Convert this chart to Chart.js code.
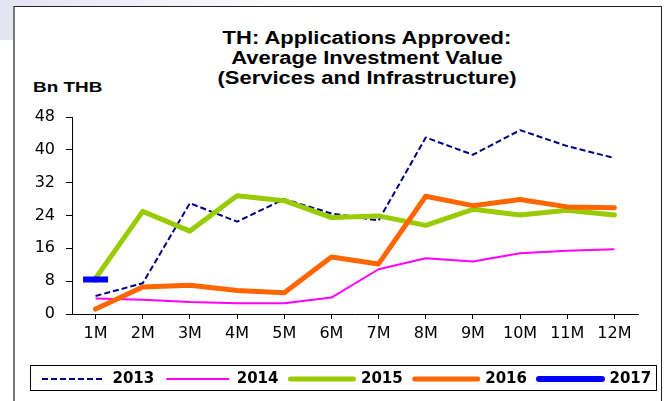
<!DOCTYPE html>
<html>
<head>
<meta charset="utf-8">
<script src="https://cdn.jsdelivr.net/npm/chart.js@4.4.0/dist/chart.umd.min.js"></script>
<style>
  html, body { margin:0; padding:0; width:667px; height:401px; overflow:hidden; background:#fff; }
  #corner { position:absolute; left:0; top:0; width:320px; height:40px; background:linear-gradient(100deg, #e4e4f1 0%, #f1f1f8 45%, #fff 100%); }
  #frame { position:absolute; left:13px; top:6px; width:646px; height:400px; background:#fff; border-top:1px solid #222; border-left:2px solid #777; border-right:1px solid #222; }
  #title { position:absolute; left:167px; top:28px; width:400px; text-align:center; font:bold 18px/20px "Liberation Sans", Arial, sans-serif; color:#000; transform:scaleX(1.22); transform-origin:center; }
  #unit { position:absolute; left:33px; top:78px; font:bold 15.5px/18px "Liberation Sans", Arial, sans-serif; color:#000; transform:scaleX(1.22); transform-origin:left; }
  #myChart { position:absolute; left:0; top:0; }
</style>
</head>
<body>
<div id="corner"></div>
<div id="frame"></div>
<div id="title">TH: Applications Approved:<br>Average Investment Value<br>(Services and Infrastructure)</div>
<div id="unit">Bn THB</div>
<canvas id="myChart" width="667" height="401"></canvas>
<script>
const months = ['1M', '2M', '3M', '4M', '5M', '6M', '7M', '8M', '9M', '10M', '11M', '12M'];
const y2013 = [4.4, 7.5, 27.0, 22.5, 28.0, 24.5, 22.8, 43.0, 38.8, 44.8, 40.9, 38.0];
const y2014 = [3.8, 3.5, 2.9, 2.6, 2.6, 4.0, 10.9, 13.6, 12.8, 14.8, 15.4, 15.8];
const y2015 = [8.7, 25.0, 20.2, 28.8, 27.6, 23.5, 23.9, 21.6, 25.5, 24.1, 25.3, 24.1];
const y2016 = [1.2, 6.6, 7.0, 5.7, 5.2, 13.9, 12.2, 28.7, 26.4, 27.9, 26.1, 25.9];
const y2017 = [8.4];
const yMin = 0, yMax = 48, yStep = 8;

const ctx = document.getElementById('myChart');
const tickFont = {family: 'DejaVu Sans', size: 16};

// box round the legend, like the excel one
const legendBox = {
    id: 'legendBox',
    afterDraw(chart) {
        const c = chart.ctx;
        c.save();
        c.strokeStyle = '#000';
        c.lineWidth = 1;
        c.strokeRect(30.5, 365.5, 626, 25);
        c.restore();
    }
};

new Chart(ctx, {
    type: 'line',
    data: {
        labels: months,
        datasets: [
            {label: '2013', data: y2013, borderColor: '#000080', backgroundColor: '#000080', borderWidth: 2, borderDash: [6, 3], order: 5},
            {label: '2014', data: y2014, borderColor: '#ff00ff', backgroundColor: '#ff00ff', borderWidth: 2, order: 4},
            {label: '2015', data: y2015, borderColor: '#99cc00', backgroundColor: '#99cc00', borderWidth: 5, borderCapStyle: 'round', order: 3},
            {label: '2016', data: y2016, borderColor: '#ff6600', backgroundColor: '#ff6600', borderWidth: 5, borderCapStyle: 'round', order: 2},
            {label: '2017', data: y2017, borderColor: '#0000ff', backgroundColor: '#0000ff', borderWidth: 6, borderCapStyle: 'round',
             pointRadius: 12.5, pointBorderWidth: 6, pointBorderColor: '#0000ff', order: 1}
        ]
    },
    options: {
        responsive: false,
        animation: false,
        devicePixelRatio: 1,
        layout: {padding: {top: 117, left: 30, right: 0, bottom: 4.5}},
        elements: {
            line: {tension: 0, borderJoinStyle: 'round'},
            point: {radius: 0, hoverRadius: 0, pointStyle: 'line'}
        },
        scales: {
            x: {
                offset: true,
                grid: {drawOnChartArea: false, tickLength: 5, color: '#000'},
                border: {color: '#000'},
                ticks: {font: tickFont, color: '#000', padding: 5, maxRotation: 0, autoSkip: false},
                afterFit(s) { s.height = 45.5; }
            },
            y: {
                min: yMin,
                max: yMax,
                grid: {drawOnChartArea: false, tickLength: 6, color: '#000'},
                border: {color: '#000'},
                ticks: {stepSize: yStep, font: tickFont, color: '#000', padding: 11},
                afterFit(s) { s.width = 42; }
            },
            y2: {
                position: 'right',
                grid: {display: false},
                border: {display: false},
                ticks: {display: false},
                afterFit(s) { s.width = 29; }
            }
        },
        plugins: {
            tooltip: {enabled: false},
            legend: {
                position: 'bottom',
                align: 'start',
                labels: {
                    usePointStyle: true,
                    pointStyleWidth: 63,
                    boxHeight: 15,
                    padding: 12,
                    color: '#000',
                    font: {family: 'DejaVu Sans', size: 15, weight: 'bold'},
                    generateLabels(chart) {
                        return chart.data.datasets.map((ds, i) => ({
                            text: ds.label,
                            fillStyle: ds.borderColor,
                            strokeStyle: ds.borderColor,
                            lineWidth: ds.borderWidth,
                            lineDash: ds.borderDash || [],
                            lineCap: ds.borderCapStyle || 'butt',
                            pointStyle: 'line',
                            fontColor: '#000',
                            hidden: false,
                            datasetIndex: i
                        }));
                    }
                }
            }
        }
    },
    plugins: [legendBox]
});
</script>
</body>
</html>
